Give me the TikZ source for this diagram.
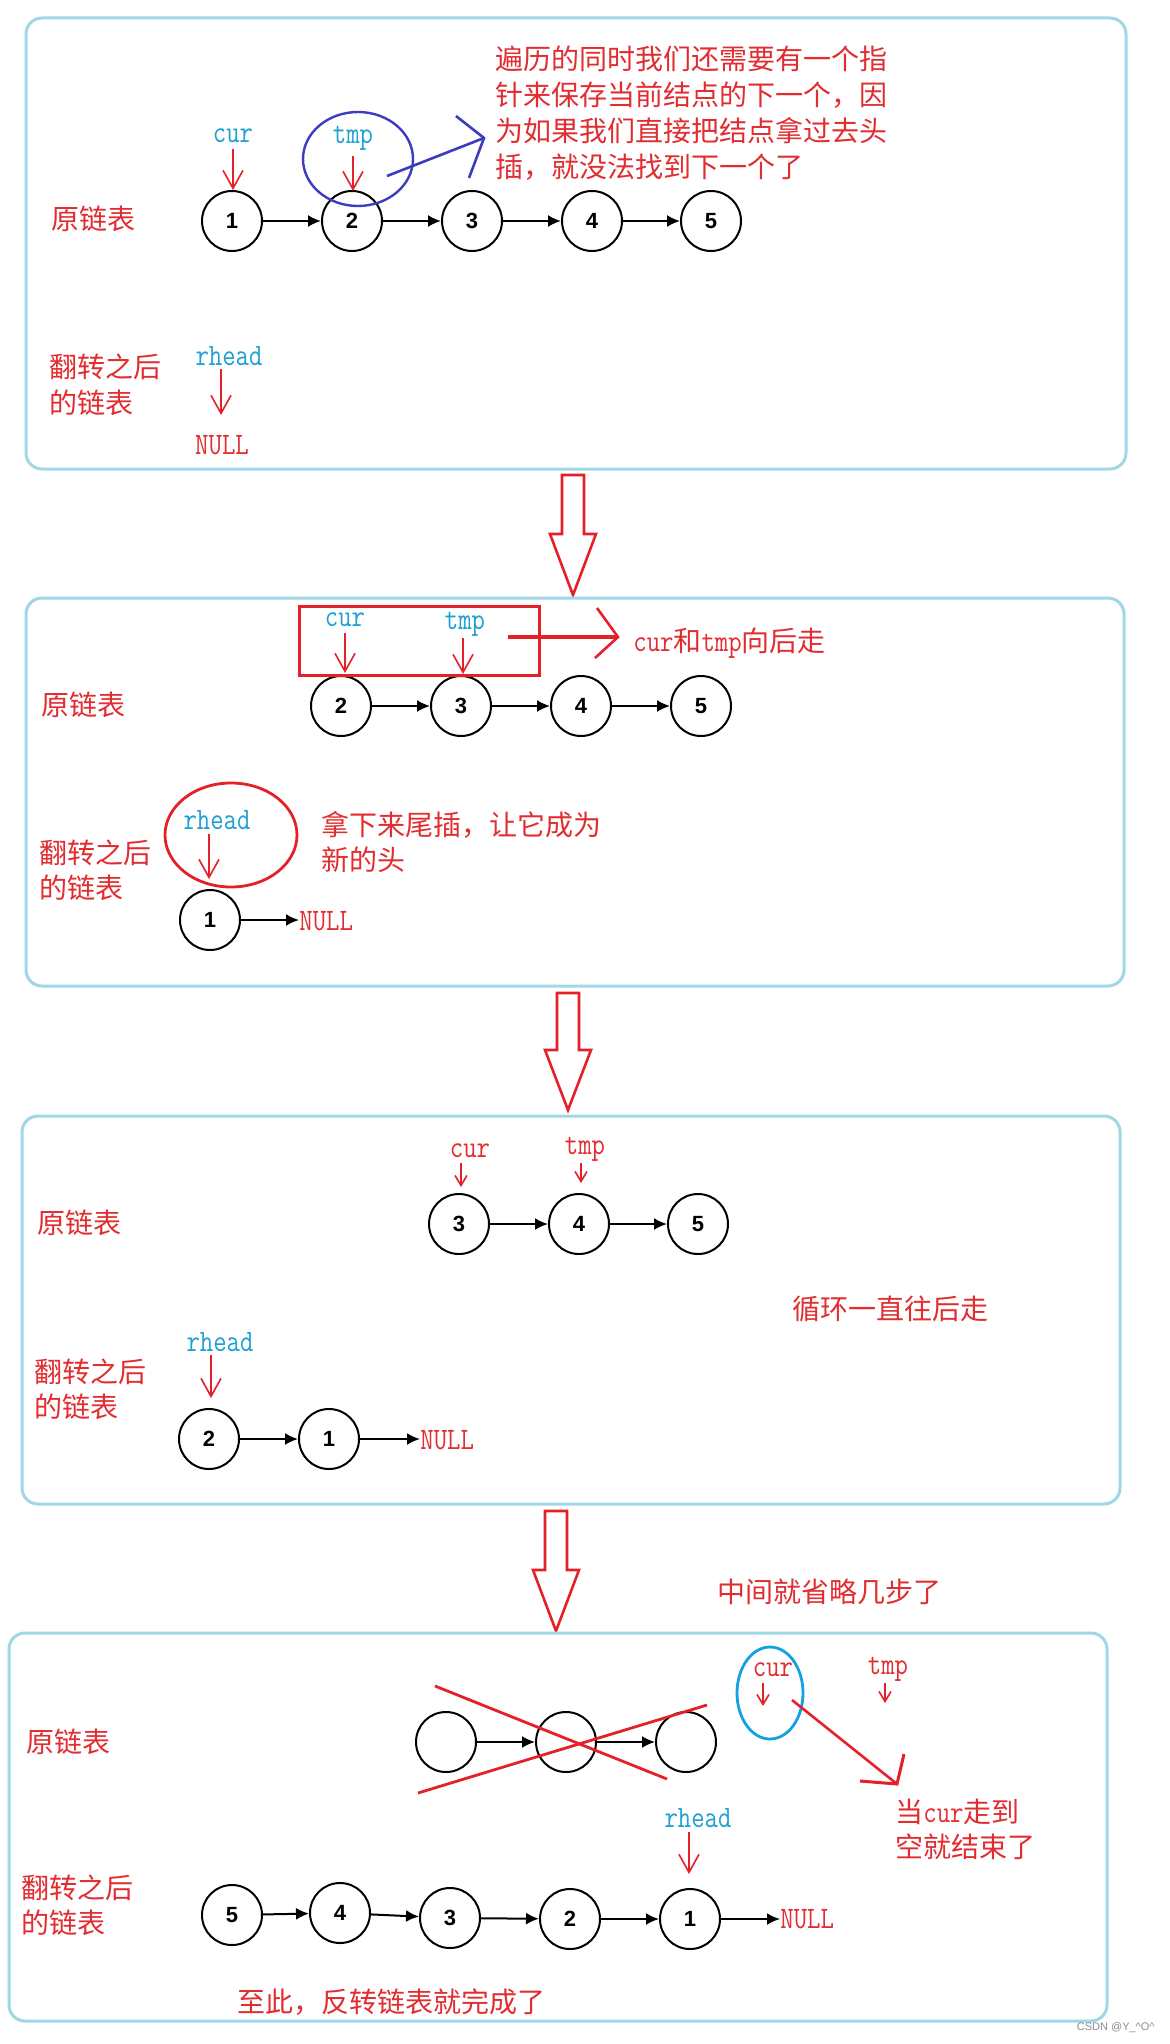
\documentclass[tikz,border=0pt]{standalone}
\usepackage{fontspec}
\usepackage{graphicx}
\usetikzlibrary{arrows.meta}
\newfontfamily\cjk{Noto Sans CJK SC}
\newfontfamily\numfont{Liberation Sans}
\newcommand\mono[1]{\scalebox{1}[1.2]{\ttfamily\fontsize{13}{15}\selectfont #1}}
\definecolor{boxblue}{RGB}{160,215,228}
\definecolor{myred}{RGB}{228,32,40}
\definecolor{txtred}{RGB}{226,44,48}
\definecolor{labcyan}{RGB}{30,160,210}
\definecolor{ellblue}{RGB}{60,60,190}
\definecolor{ellcyan}{RGB}{20,160,225}
\tikzset{
 panel/.style={draw=boxblue, line width=1.5pt, rounded corners=8pt},
 lnode/.style={circle, draw=black, line width=1pt, minimum size=30pt, inner sep=0pt, font=\numfont\bfseries\fontsize{11}{13}\selectfont},
 link/.style={-{Latex[length=6.5pt,width=6pt]}, line width=1pt},
 cjktxt/.style={font=\cjk\fontsize{14}{18}\selectfont, text=txtred, inner sep=0pt, anchor=west},
 ptrcyan/.style={inner sep=0pt, text=labcyan},
 ptrred/.style={inner sep=0pt, text=txtred},
 ptrarrow/.style={draw=myred, line width=0.8pt, -{Straight Barb[length=9pt,width=10pt]}},
 smallptr/.style={draw=myred, line width=0.8pt, -{Straight Barb[length=5pt,width=6pt]}},
 nulltxt/.style={text=txtred, inner sep=0pt},
 bigarrow/.style={draw=myred, line width=1.3pt, fill=white, line join=miter},
}
\begin{document}
\begin{tikzpicture}[x=0.5pt,y=-0.5pt]
\useasboundingbox[fill=white] (0,0) rectangle (1170,2044);

%%%%%%%%%%%%%%%% Panel 1
\draw[panel] (26,18) rectangle (1126,469);
\node[cjktxt] (o1) at (51,219) {原链表};
\node[cjktxt] (r1a) at (49,367) {翻转之后};
\node[cjktxt] (r1b) at (49,403) {的链表};
\foreach \n/\x in {1/232,2/352,3/472,4/592,5/711}
  \node[lnode] (a\n) at (\x,221) {\n};
\draw[link] (a1) -- (a2);
\draw[link] (a2) -- (a3);
\draw[link] (a3) -- (a4);
\draw[link] (a4) -- (a5);
\node[ptrcyan] (cur1) at (233,136) {\mono{cur}};
\coordinate (cur1s) at (233,149);
\coordinate (cur1e) at (233,190);
\draw[ptrarrow] (cur1s) -- (cur1e);
\node[ptrcyan] (tmp1) at (353,138) {\mono{tmp}};
\coordinate (tmp1s) at (353,156);
\coordinate (tmp1e) at (353,191);
\draw[ptrarrow] (tmp1s) -- (tmp1e);
\draw[ellblue, line width=1.2pt] (358,159) ellipse [x radius=27.5pt, y radius=23.5pt];
\coordinate (bl0) at (387,176);
\coordinate (bl1) at (484,138);
\coordinate (bl2) at (456,116);
\coordinate (bl3) at (469,178);
\draw[ellblue, line width=1.3pt] (bl0) -- (bl1);
\draw[ellblue, line width=1.3pt] (bl2) -- (bl1) -- (bl3);
\node[cjktxt] (t1a) at (495,59) {遍历的同时我们还需要有一个指};
\node[cjktxt] (t1b) at (495,95) {针来保存当前结点的下一个，因};
\node[cjktxt] (t1c) at (495,131) {为如果我们直接把结点拿过去头};
\node[cjktxt] (t1d) at (495,167) {插，就没法找到下一个了};
\node[ptrcyan] (rh1) at (229,356) {\mono{rhead}};
\coordinate (rh1s) at (221,369);
\coordinate (rh1e) at (221,415);
\draw[ptrarrow] (rh1s) -- (rh1e);
\node[nulltxt] (n1) at (222,445) {\mono{NULL}};

% big arrow 1
\draw[bigarrow] (562,475) -- (584,475) -- (584,534) -- (596,534) -- (573,595) -- (550,534) -- (562,534) -- cycle;

%%%%%%%%%%%%%%%% Panel 2
\draw[panel] (26,598) rectangle (1124,986);
\node[cjktxt] (o2) at (41,705) {原链表};
\node[cjktxt] (r2a) at (39,853) {翻转之后};
\node[cjktxt] (r2b) at (39,888) {的链表};
\foreach \n/\x in {2/341,3/461,4/581,5/701}
  \node[lnode] (b\n) at (\x,706) {\n};
\draw[link] (b2) -- (b3);
\draw[link] (b3) -- (b4);
\draw[link] (b4) -- (b5);
\draw[myred, line width=1.5pt] (299,606) rectangle (539,675);
\node[ptrcyan] (cur2) at (345,620) {\mono{cur}};
\coordinate (cur2s) at (345,633);
\coordinate (cur2e) at (345,673);
\draw[ptrarrow] (cur2s) -- (cur2e);
\node[ptrcyan] (tmp2) at (465,624) {\mono{tmp}};
\coordinate (tmp2s) at (463,638);
\coordinate (tmp2e) at (463,674);
\draw[ptrarrow] (tmp2s) -- (tmp2e);
\coordinate (ra0) at (508,637);
\coordinate (ra1) at (618,637);
\coordinate (ra2) at (597,608);
\coordinate (ra3) at (595,658);
\draw[myred, line width=1.8pt] (ra0) -- (ra1);
\draw[myred, line width=1.3pt] (ra2) -- (ra1) -- (ra3);
\node[cjktxt] (t2) at (633,643) {\mono{cur}和\mono{tmp}向后走};
\draw[myred, line width=1.4pt] (231,835) ellipse [x radius=33pt, y radius=26pt];
\node[ptrcyan] (rh2) at (217,820) {\mono{rhead}};
\coordinate (rh2s) at (209,834);
\coordinate (rh2e) at (209,879);
\draw[ptrarrow] (rh2s) -- (rh2e);
\node[cjktxt] (t2b) at (321,825) {拿下来尾插，让它成为};
\node[cjktxt] (t2c) at (321,860) {新的头};
\node[lnode] (b1) at (210,920) {1};
\node[nulltxt, anchor=west] (n2) at (299,921) {\mono{NULL}};
\draw[link] (b1) -- (b1 -| n2.west);

% big arrow 2
\draw[bigarrow] (557,993) -- (579,993) -- (579,1050) -- (591,1050) -- (568,1110) -- (545,1050) -- (557,1050) -- cycle;

%%%%%%%%%%%%%%%% Panel 3
\draw[panel] (22,1116) rectangle (1120,1504);
\node[cjktxt] (o3) at (37,1223) {原链表};
\foreach \n/\x in {3/459,4/579,5/698}
  \node[lnode] (c\n) at (\x,1224) {\n};
\draw[link] (c3) -- (c4);
\draw[link] (c4) -- (c5);
\node[ptrred] (cur3) at (470,1151) {\mono{cur}};
\coordinate (cur3s) at (461,1163);
\coordinate (cur3e) at (461,1187);
\draw[smallptr] (cur3s) -- (cur3e);
\node[ptrred] (tmp3) at (585,1149) {\mono{tmp}};
\coordinate (tmp3s) at (581,1163);
\coordinate (tmp3e) at (581,1183);
\draw[smallptr] (tmp3s) -- (tmp3e);
\node[cjktxt] (t3) at (792,1309) {循环一直往后走};
\node[ptrcyan] (rh3) at (220,1342) {\mono{rhead}};
\coordinate (rh3s) at (211,1355);
\coordinate (rh3e) at (211,1398);
\draw[ptrarrow] (rh3s) -- (rh3e);
\node[cjktxt] (r3a) at (34,1372) {翻转之后};
\node[cjktxt] (r3b) at (34,1407) {的链表};
\node[lnode] (d2) at (209,1439) {2};
\node[lnode] (d1) at (329,1439) {1};
\node[nulltxt, anchor=west] (n3) at (420,1440) {\mono{NULL}};
\draw[link] (d2) -- (d1);
\draw[link] (d1) -- (d1 -| n3.west);

% big arrow 3
\draw[bigarrow] (545,1511) -- (567,1511) -- (567,1570) -- (579,1570) -- (556,1631) -- (533,1570) -- (545,1570) -- cycle;
\node[cjktxt] (t4a) at (717,1592) {中间就省略几步了};

%%%%%%%%%%%%%%%% Panel 4
\draw[panel] (9,1633) rectangle (1107,2021);
\node[cjktxt] (o4) at (26,1742) {原链表};
\node[lnode] (e1) at (446,1742) {};
\node[lnode] (e2) at (566,1742) {};
\node[lnode] (e3) at (686,1742) {};
\draw[link] (e1) -- (e2);
\draw[link] (e2) -- (e3);
\coordinate (x1a) at (435,1686);
\coordinate (x1b) at (667,1779);
\coordinate (x2a) at (418,1793);
\coordinate (x2b) at (707,1705);
\draw[myred, line width=1.4pt] (x1a) -- (x1b);
\draw[myred, line width=1.4pt] (x2a) -- (x2b);
\draw[ellcyan, line width=1.4pt] (770,1693) ellipse [x radius=16.5pt, y radius=23pt];
\node[ptrred] (cur4) at (773,1670) {\mono{cur}};
\coordinate (cur4s) at (763,1683);
\coordinate (cur4e) at (763,1706);
\draw[smallptr] (cur4s) -- (cur4e);
\node[ptrred] (tmp4) at (888,1669) {\mono{tmp}};
\coordinate (tmp4s) at (885,1683);
\coordinate (tmp4e) at (885,1703);
\draw[smallptr] (tmp4s) -- (tmp4e);
\coordinate (rb0) at (792,1700);
\coordinate (rb1) at (897,1784);
\coordinate (rb2) at (904,1754);
\coordinate (rb3) at (860,1781);
\draw[myred, line width=1.3pt] (rb0) -- (rb1);
\draw[myred, line width=1.5pt] (rb2) -- (rb1) -- (rb3);
\node[cjktxt] (t4b) at (895,1812) {当\mono{cur}走到};
\node[cjktxt] (t4c) at (895,1847) {空就结束了};
\node[ptrcyan] (rh4) at (698,1818) {\mono{rhead}};
\coordinate (rh4s) at (689,1832);
\coordinate (rh4e) at (689,1874);
\draw[ptrarrow] (rh4s) -- (rh4e);
\node[cjktxt] (r4a) at (21,1888) {翻转之后};
\node[cjktxt] (r4b) at (21,1923) {的链表};
\node[lnode] (f5) at (232,1915) {5};
\node[lnode] (f4) at (340,1913) {4};
\node[lnode] (f3) at (450,1918) {3};
\node[lnode] (f2) at (570,1919) {2};
\node[lnode] (f1) at (690,1919) {1};
\node[nulltxt, anchor=west] (n4) at (780,1919) {\mono{NULL}};
\draw[link] (f5) -- (f4);
\draw[link] (f4) -- (f3);
\draw[link] (f3) -- (f2);
\draw[link] (f2) -- (f1);
\draw[link] (f1) -- (f1 -| n4.west);
\node[cjktxt] (t4d) at (237,2002) {至此，反转链表就完成了};
\node[font=\numfont\fontsize{5.5}{6}\selectfont, text=black!45, anchor=east, inner sep=0pt] (wm) at (1155,2028) {CSDN @Y\_\textasciicircum O\textasciicircum};
\end{tikzpicture}
\end{document}
